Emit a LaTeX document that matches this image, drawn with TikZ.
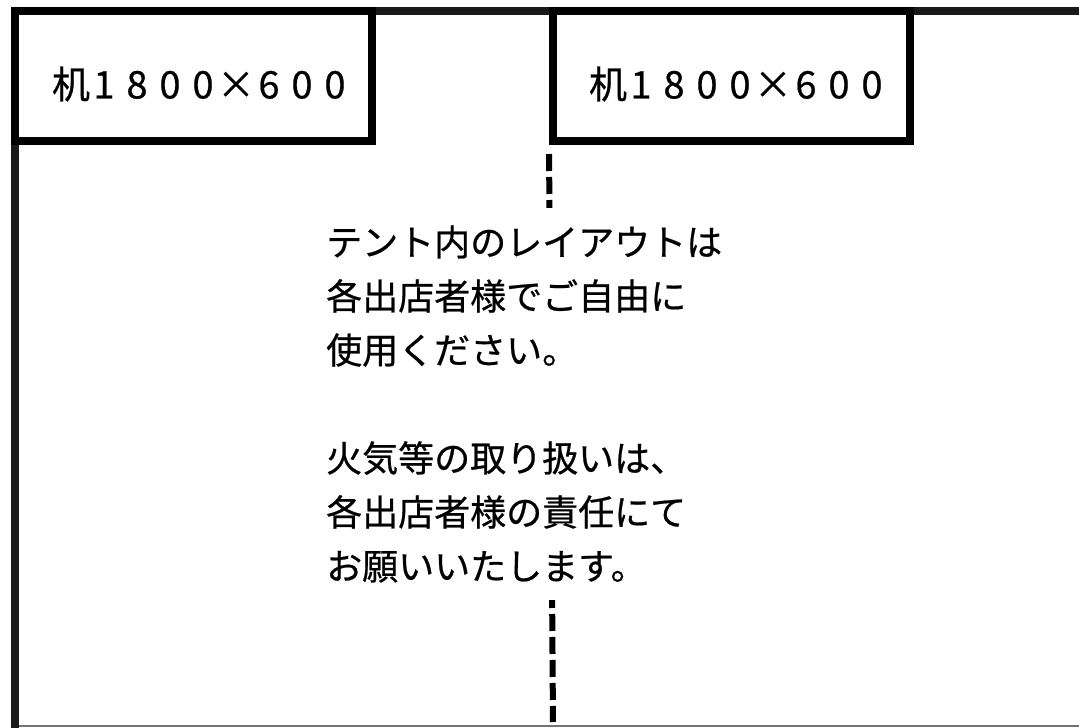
\documentclass[tikz,border=0pt]{standalone}
\usepackage{fontspec}
\newfontfamily\jpfont[FakeBold=0.6]{Noto Sans CJK JP}
\usepackage{tikz}
\usetikzlibrary{positioning}
\newcommand\deskcell[1]{\makebox[33pt]{#1}}
\newcommand\desksize{\deskcell{机}\deskcell{1}\deskcell{8}\deskcell{0}\deskcell{0}\deskcell{×}\deskcell{6}\deskcell{0}\deskcell{0}}
\tikzset{
  desk/.style={draw, line width=8pt, minimum width=357pt, minimum height=130pt, inner sep=0pt},
  desklabel/.style={font=\jpfont\fontsize{38}{40}\selectfont, inner sep=0pt},
  tentline/.style={line width=8pt, black!90},
  note/.style={fill=white, align=left, inner xsep=6pt, inner ysep=17pt,
    font=\jpfont\fontsize{36}{54}\selectfont},
  guide/.style={line width=6pt, dash pattern=on 17pt off 6pt}
}

\begin{document}
\begin{tikzpicture}[x=1pt,y=-1pt]
      \useasboundingbox[fill=white] (0,0) rectangle (1079,728);
      % tent outline
      \draw[tentline] (15,728) -- (15,11) -- (1079,11);
      \draw[black!55, line width=2pt] (19,726) -- (1079,726);
      \coordinate (tentbottom) at (553,726);
      % desks
      \node[desk] (desk1) at (193.5,76) {};
      \node[desk] (desk2) at (731.5,76) {};
      \node[desklabel] (label1) at (203,84) {\desksize};
      \node[desklabel] (label2) at (740,84) {\desksize};
      % center guide
      \draw[guide, shorten <=9pt, shorten >=4pt] (desk2.south west) -- (tentbottom);
      \node[note, anchor=west] (note) at (320,404) {テント内のレイアウトは\\各出店者様でご自由に\\使用ください。\\[54pt]火気等の取り扱いは、\\各出店者様の責任にて\\お願いいたします。};
\end{tikzpicture}
\end{document}
